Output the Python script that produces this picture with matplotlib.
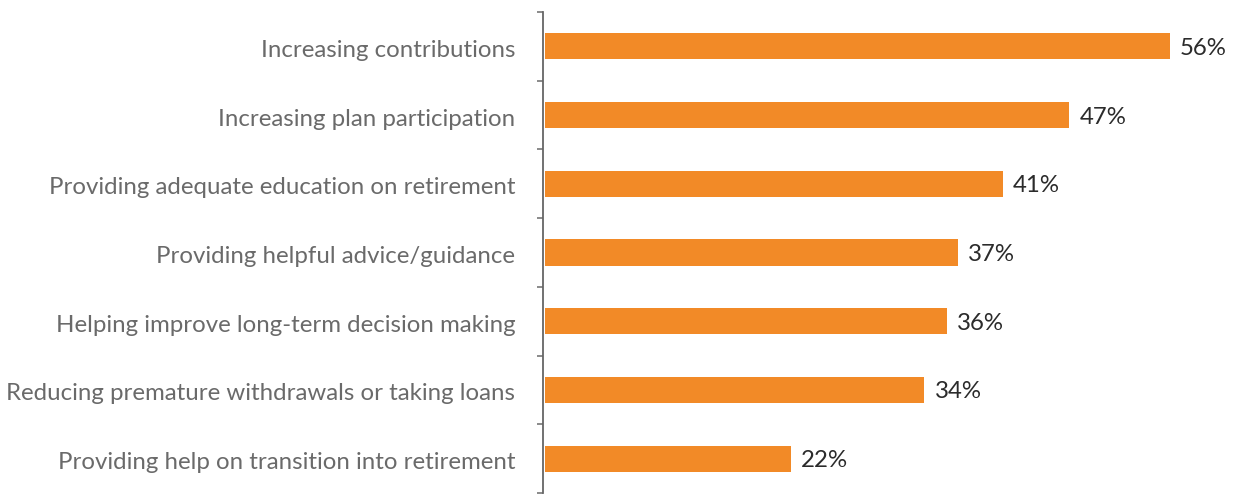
import numpy as np
import matplotlib.pyplot as plt

categories = [
    "Increasing contributions",
    "Increasing plan participation",
    "Providing adequate education on retirement",
    "Providing helpful advice/guidance",
    "Helping improve long-term decision making",
    "Reducing premature withdrawals or taking loans",
    "Providing help on transition into retirement",
]
values = [56, 47, 41, 37, 36, 34, 22]

bar_color = "#F28A27"
label_color = "#6A6A6A"

plt.rcParams["font.family"] = ["Lato", "DejaVu Sans"]

fig = plt.figure(figsize=(12.39, 4.97), dpi=100)
ax = fig.add_axes([543 / 1239, 4 / 497, 696 / 1239, 481 / 497])

y = np.arange(len(categories))
ax.barh(y, values, height=0.38, color=bar_color, left=0.2)
for yi, v in zip(y, values):
    ax.text(v + 1.1, yi + 0.03, f"{v}%", va="center", ha="left", fontsize=17.3, color="#2B2B2B")

ax.set_xlim(0, 62.4)
ax.set_ylim(len(categories) - 0.5, -0.5)

ax.set_yticks(y + 0.03)
ax.set_yticklabels(categories, fontsize=17.3, color=label_color)
ax.tick_params(axis="y", which="major", length=0, pad=20)
ax.set_yticks(np.arange(-0.5, len(categories)), minor=True)
ax.tick_params(axis="y", which="minor", length=4, width=1.2, color="#777777", direction="out")
ax.set_xticks([])

for side in ["top", "right", "bottom"]:
    ax.spines[side].set_visible(False)
ax.spines["left"].set_color("#666666")
ax.spines["left"].set_linewidth(1.3)

fig.savefig("out.png", dpi=100)
